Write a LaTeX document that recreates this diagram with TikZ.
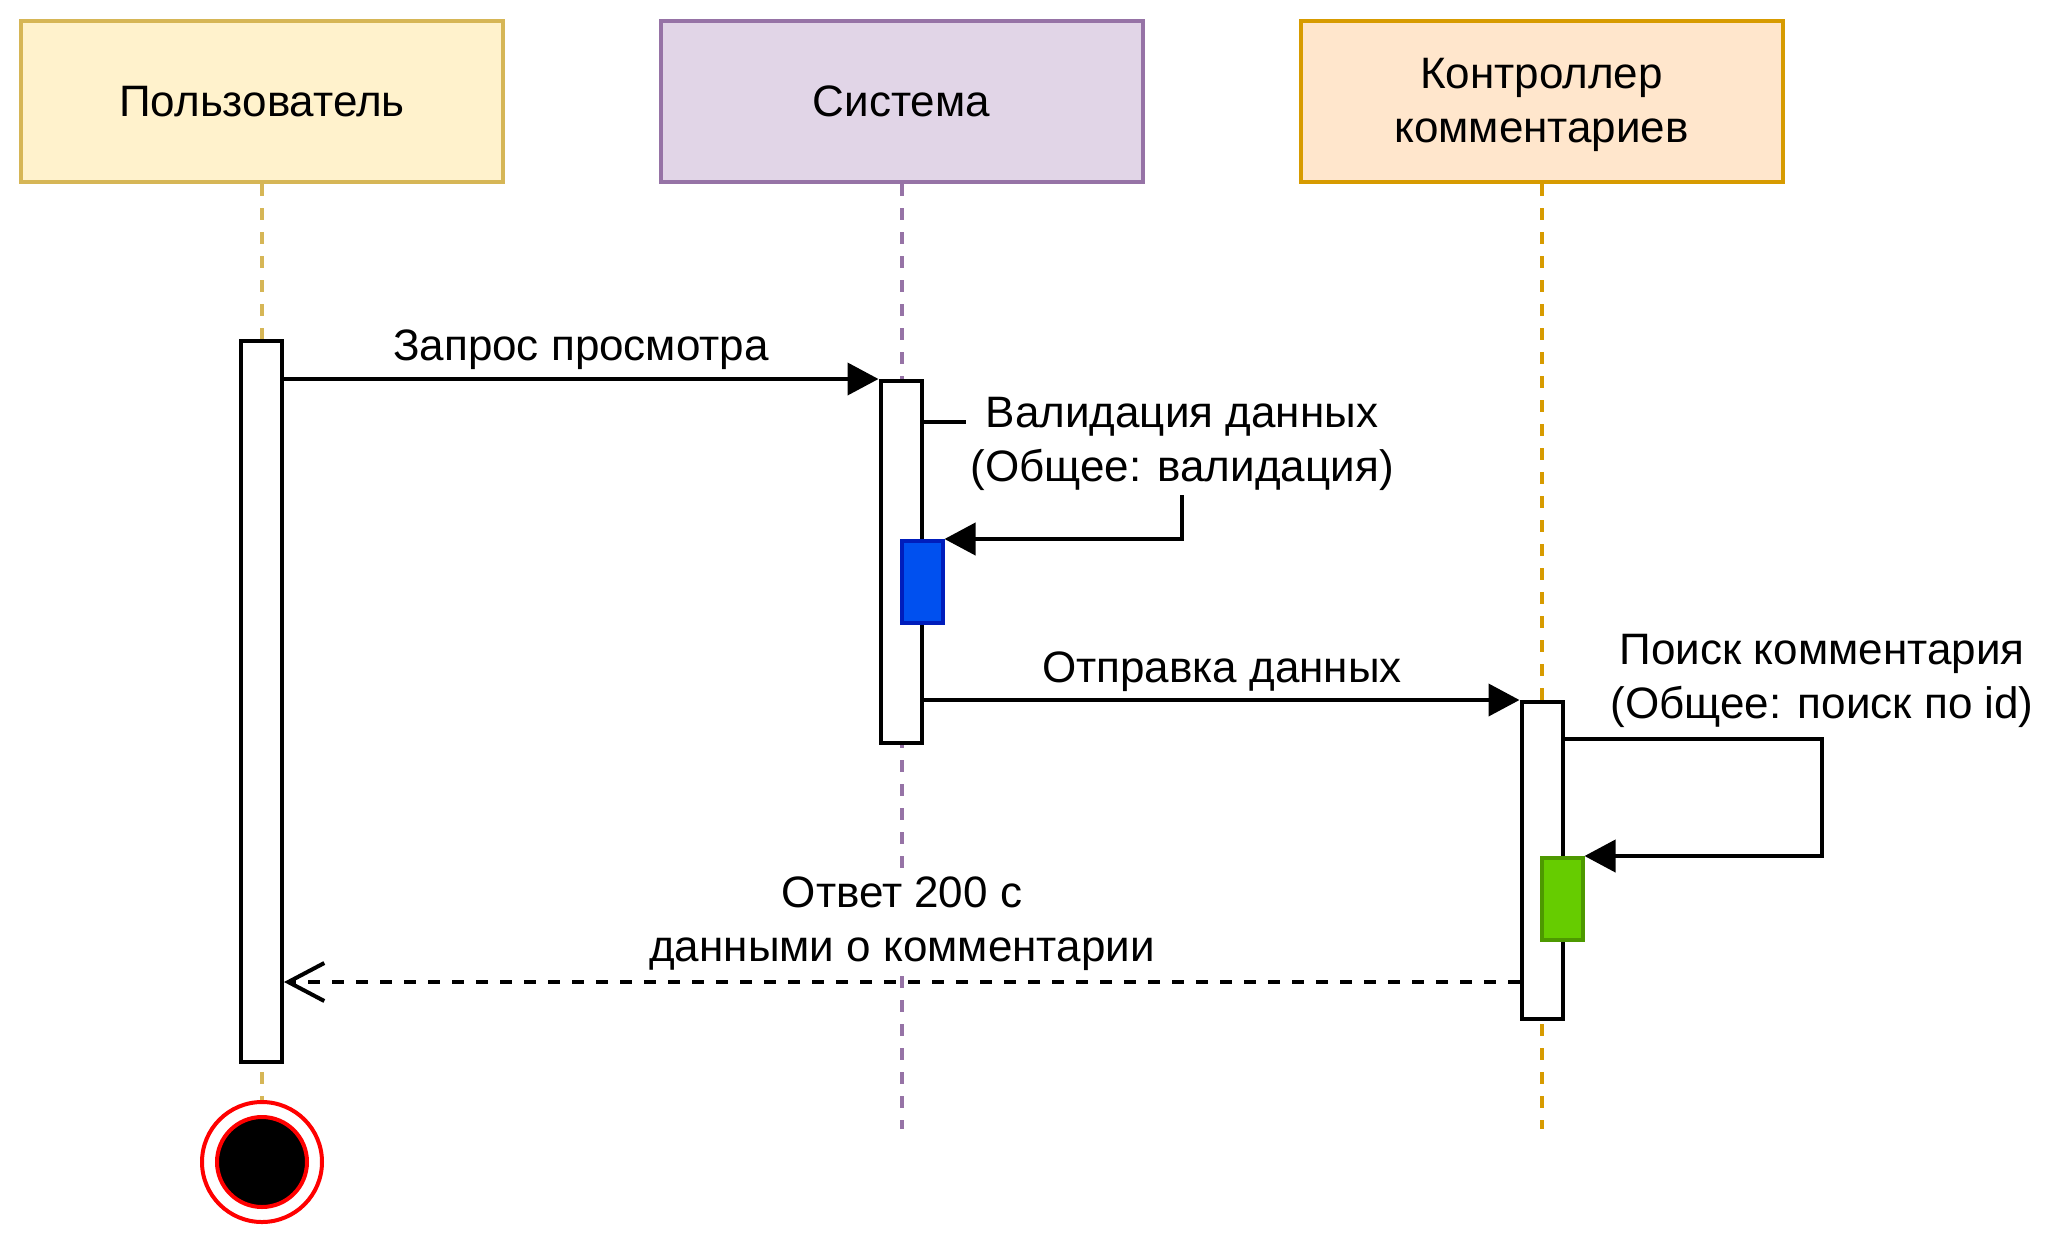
\documentclass[tikz,border=0pt]{standalone}
\usepackage{fontspec}
\setmainfont{Liberation Sans}
\usetikzlibrary{arrows.meta}
\pgfdeclarelayer{background}
\pgfsetlayers{background,main}

\definecolor{userfill}{HTML}{FFF2CC}
\definecolor{userline}{HTML}{D6B656}
\definecolor{sysfill}{HTML}{E1D5E7}
\definecolor{sysline}{HTML}{9673A6}
\definecolor{ctrlfill}{HTML}{FFE6CC}
\definecolor{ctrlline}{HTML}{D79B00}
\definecolor{bluefill}{HTML}{0050EF}
\definecolor{blueline}{HTML}{001DBC}
\definecolor{greenfill}{HTML}{66CC00}
\definecolor{greenline}{HTML}{4D9900}

\begin{document}
\begin{tikzpicture}[x=0.5pt,y=-0.5pt,
  font=\fontsize{22}{27}\selectfont,
  header/.style={draw, line width=2pt, minimum width=241pt, minimum height=80.5pt,
                 inner sep=0pt, align=center},
  act/.style={draw, line width=2pt, fill=white, minimum width=20.5pt, inner sep=0pt},
  exec/.style={draw, line width=2pt, minimum width=20.5pt, minimum height=41pt, inner sep=0pt},
  lifeline/.style={line width=2pt, dash pattern=on 6pt off 6pt},
  msg/.style={line width=2pt, -{Triangle[length=15.5pt,width=16pt]}},
  reply/.style={line width=2pt, dash pattern=on 6pt off 6pt,
                -{Straight Barb[length=18pt,width=19pt,line width=2pt]}},
  lbl/.style={align=center, inner sep=2pt}
]
\useasboundingbox (0,0) rectangle (2052,1244);

% participants
\node[header, fill=userfill, draw=userline] (user) at (262,101.5) {};
\node[header, fill=sysfill, draw=sysline] (sys) at (901.5,101.5) {};
\node[header, fill=ctrlfill, draw=ctrlline] (ctrl) at (1541.5,101.5) {};
\node[lbl] (usert) at (262,101.5) {Пользователь};
\node[lbl] (syst) at (901.5,101.5) {Система};
\node[lbl] (ctrlt) at (1541.5,105) {Контроллер\\комментариев};

% activation bars
\node[act, minimum height=360.5pt] (ua) at (261.5,701.5) {};
\node[act, minimum height=181pt] (sa) at (901,562) {};
\node[act, minimum height=158.5pt] (ca) at (1542,860.5) {};

% nested executions
\node[exec, fill=bluefill, draw=blueline] (blue) at (922,582) {};
\node[exec, fill=greenfill, draw=greenline] (green) at (1562,899) {};

% final state
\node[circle, draw=red, fill=white, line width=2pt, minimum size=60pt, inner sep=0pt] (endo) at (262,1162) {};
\node[circle, draw=red, fill=black, line width=2pt, minimum size=45pt, inner sep=0pt] (endi) at (262,1162) {};

% lifelines
\begin{pgfonlayer}{background}
  \draw[lifeline, draw=userline] (user.south) -- (endo.north);
  \draw[lifeline, draw=sysline] (sys.south) -- (sys.south |- 0,1129);
  \draw[lifeline, draw=ctrlline] (ctrl.south) -- (ctrl.south |- 0,1129);
\end{pgfonlayer}

% messages
\draw[msg] (ua.east |- sa.north) -- (sa.north west);
\node[lbl] (m1) at (581,350) {Запрос просмотра};

\draw[msg] (sa.east |- 0,422) -- (1182,422) |- (blue.north east);
\node[lbl, fill=white] (m2) at (1182,444) {Валидация данных\\(Общее: валидация)};

\draw[msg] (sa.east |- ca.north) -- (ca.north west);
\node[lbl] (m3) at (1222,672) {Отправка данных};

\draw[msg] (ca.east |- 0,739) -- (1822,739) |- (green.north east);
\node[lbl] (m4) at (1822,681) {Поиск комментария\\(Общее: поиск по id)};

\draw[reply] (ca.west |- 0,982) -- (ua.east |- 0,982);
\node[lbl, fill=white] (m5) at (902,924) {Ответ 200 с\\данными о комментарии};
\end{tikzpicture}
\end{document}
